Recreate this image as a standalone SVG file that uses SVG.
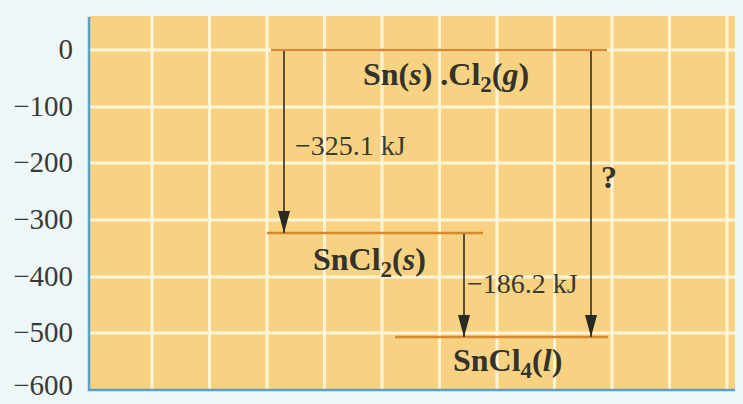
<svg xmlns="http://www.w3.org/2000/svg" width="743" height="404" viewBox="0 0 743 404">
<style>
.tick{font-family:"Liberation Serif","Times New Roman",serif;font-size:29px;fill:#3a3a35;text-anchor:end}
.sp{font-family:"Liberation Serif","Times New Roman",serif;font-size:32px;font-weight:bold;fill:#33332b}
.sub{font-size:23px}
.dh{font-family:"Liberation Serif","Times New Roman",serif;font-size:28px;fill:#3a3a30}
.grid{stroke:#FFF5D6;stroke-width:3}
.level{stroke:#D8892F;stroke-width:2.5}
.arr{stroke:#2e2e28;stroke-width:1.6;fill:none;marker-end:url(#ah)}
</style>
<defs>
<marker id="ah" markerWidth="22" markerHeight="12" refX="22" refY="6" orient="auto" markerUnits="userSpaceOnUse" viewBox="0 0 22 12">
<path d="M0,0 L22,6 L0,12 Z" fill="#2a2a24"/>
</marker>
</defs>
<rect width="743" height="404" fill="#EEF7F7"/>
<g id="plot">
<rect x="89" y="16" width="646" height="374" fill="#F8D283"/>
<g class="grid">
<line x1="89" y1="50" x2="735" y2="50"/>
<line x1="89" y1="107" x2="735" y2="107"/>
<line x1="89" y1="163" x2="735" y2="163"/>
<line x1="89" y1="220" x2="735" y2="220"/>
<line x1="89" y1="277" x2="735" y2="277"/>
<line x1="89" y1="333" x2="735" y2="333"/>
<line x1="152" y1="16" x2="152" y2="390"/>
<line x1="209.5" y1="16" x2="209.5" y2="390"/>
<line x1="267" y1="16" x2="267" y2="390"/>
<line x1="324.5" y1="16" x2="324.5" y2="390"/>
<line x1="382" y1="16" x2="382" y2="390"/>
<line x1="439.5" y1="16" x2="439.5" y2="390"/>
<line x1="497" y1="16" x2="497" y2="390"/>
<line x1="554.5" y1="16" x2="554.5" y2="390"/>
<line x1="612" y1="16" x2="612" y2="390"/>
<line x1="669.5" y1="16" x2="669.5" y2="390"/>
<line x1="727" y1="16" x2="727" y2="390"/>
</g>
<path d="M89,17 V390 H735" fill="none" stroke="#5E9FC6" stroke-width="2.5"/>
</g>
<g id="axis-labels">
<text class="tick" x="73" y="59">0</text>
<text class="tick" x="73" y="116">−100</text>
<text class="tick" x="73" y="172">−200</text>
<text class="tick" x="73" y="229">−300</text>
<text class="tick" x="73" y="286">−400</text>
<text class="tick" x="73" y="342">−500</text>
<text class="tick" x="73" y="395">−600</text>
</g>
<g id="level-reactants">
<line class="level" x1="271" y1="50" x2="607" y2="50"/>
<text class="sp" x="363" y="85">Sn(<tspan font-style="italic">s</tspan>) .Cl<tspan class="sub" dy="7">2</tspan><tspan dy="-7">(<tspan font-style="italic">g</tspan>)</tspan></text>
</g>
<g id="level-sncl2">
<line class="level" x1="267" y1="233" x2="483" y2="233"/>
<text class="sp" x="313" y="270">SnCl<tspan class="sub" dy="7">2</tspan><tspan dy="-7">(<tspan font-style="italic">s</tspan>)</tspan></text>
</g>
<g id="level-sncl4">
<line class="level" x1="395" y1="337" x2="608" y2="337"/>
<text class="sp" x="453" y="371">SnCl<tspan class="sub" dy="7">4</tspan><tspan dy="-7">(<tspan font-style="italic">l</tspan>)</tspan></text>
</g>
<g id="connectors">
<line class="arr" x1="284" y1="51" x2="284" y2="233"/>
<line class="arr" x1="464" y1="234" x2="464" y2="337"/>
<line class="arr" x1="591" y1="51" x2="591" y2="337"/>
<text class="dh" x="295" y="155">−325.1 kJ</text>
<text class="dh" x="467" y="293">−186.2 kJ</text>
<text class="sp" x="601" y="188" font-size="34">?</text>
</g>
</svg>
